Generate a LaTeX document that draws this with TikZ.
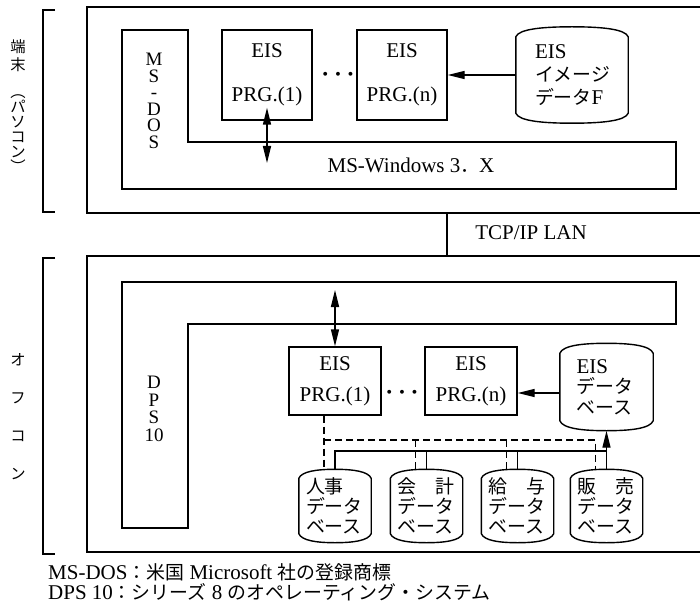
\documentclass[tikz,border=0pt]{standalone}
\usepackage{fontspec}
\setmainfont{Liberation Serif}
\newfontfamily\jfont[Scale=0.9]{Noto Sans CJK JP}
\newcommand{\ja}[1]{{\jfont #1}}
\usetikzlibrary{calc,arrows.meta,positioning}

\newcommand{\dbshape}[2][10]{%
  \draw[frame] ($(#2.north west)+(0,#1)$)
    .. controls ($(#2.north west)+(3,2)$) and ($(#2.north west)!0.5!(#2.north)$) .. (#2.north)
    .. controls ($(#2.north)!0.5!(#2.north east)$) and ($(#2.north east)+(-3,2)$) .. ($(#2.north east)+(0,#1)$)
    -- ($(#2.south east)+(0,-#1)$)
    .. controls ($(#2.south east)+(-3,-2)$) and ($(#2.south)!0.5!(#2.south east)$) .. (#2.south)
    .. controls ($(#2.south west)!0.5!(#2.south)$) and ($(#2.south west)+(3,-2)$) .. ($(#2.south west)+(0,-#1)$)
    -- cycle;}

\begin{document}
\begin{tikzpicture}[x=1pt,y=-1pt,
  every node/.style={font=\fontsize{21}{24}\selectfont},
  frame/.style={line width=1.4pt},
  prg/.style={draw,line width=1.4pt,align=center,inner sep=0pt,minimum width=90pt,minimum height=90pt},
  dbnode/.style={align=left,inner xsep=7pt,inner ysep=0pt,text width=58pt,minimum height=73pt,font=\fontsize{21}{20}\selectfont},
  vtext/.style={align=center,inner sep=0pt},
  dots/.style={font=\fontsize{24}{24}\selectfont\boldmath},
  arr/.style={line width=1.4pt,-{Triangle[length=17pt,width=8pt]}},
  darr/.style={line width=1.4pt,{Triangle[length=17pt,width=8pt]}-{Triangle[length=17pt,width=8pt]}},
  bus/.style={line width=1.4pt},
  dbus/.style={line width=1.4pt,dash pattern=on 7pt off 4pt}]
  \fill[white] (0,0) rectangle (700,609);
  \useasboundingbox (0,0) rectangle (700,609);

  % terminal side
  \draw[frame] (55,10) -- (43,10) -- (43,212) -- (55,212);
  \node[vtext,font=\fontsize{17}{15}\selectfont\jfont] (pc) at (18,106) {端\\[3pt]末\\[12pt]︵\\パ\\ソ\\コ\\ン\\︶};
  \draw[frame] (700,7) -- (87,7) -- (87,213) -- (700,213);
  \draw[frame] (122,30) -- (188,30) -- (188,142) -- (676,142) -- (676,189) -- (122,189) -- cycle;
  \node[vtext,font=\fontsize{19}{16.5}\selectfont] (msdos) at (154,101) {M\\S\\-\\D\\O\\S};
  \node (win) at (411,165) {MS-Windows 3\ja{．}X};
  \node[prg] (p1) at (267,75) {EIS\\[20pt]PRG.(1)};
  \node[prg] (pn) at (402,75) {EIS\\[20pt]PRG.(n)};
  \node[dots] (dot1) at (338,75) {$\cdots$};
  \node[dbnode,text width=74pt,inner xsep=19pt,minimum height=96pt,font=\fontsize{21}{23}\selectfont] (imgf) at (572,75) {EIS\\\ja{イメージ}\\\ja{データ}F};
  \dbshape{imgf}
  \draw[arr] (imgf.west) -- (pn.east);
  \coordinate (w1) at (267,163);
  \draw[darr] ($(p1.south)+(0,-13)$) -- (w1);

  % network
  \draw[frame] (447,213) -- (447,256);
  \node (lan) at (531,233) {TCP/IP LAN};

  % office computer side
  \draw[frame] (55,258) -- (43,258) -- (43,554) -- (55,554);
  \node[vtext,font=\fontsize{17}{38}\selectfont\jfont] (offcon) at (18,417) {オ\\フ\\コ\\ン};
  \draw[frame] (700,256) -- (87,256) -- (87,552) -- (700,552);
  \draw[frame] (122,282) -- (676,282) -- (676,324) -- (188,324) -- (188,528) -- (122,528) -- cycle;
  \node[vtext,font=\fontsize{19}{17.7}\selectfont] (dps) at (154,409) {D\\P\\S\\10};
  \node[prg,minimum width=92pt,minimum height=68pt] (q1) at (335,381) {EIS\\[7pt]PRG.(1)};
  \node[prg,minimum width=92pt,minimum height=68pt] (qn) at (471,381) {EIS\\[7pt]PRG.(n)};
  \node[dots] (dot2) at (402,393) {$\cdots$};
  \node[dbnode,text width=60pt,inner xsep=16.5pt,minimum height=87pt,font=\fontsize{21}{20.5}\selectfont] (eisdb) at (606.5,387) {EIS\\\ja{データ}\\\ja{ベース}};
  \dbshape{eisdb}
  \coordinate (ea) at ($(eisdb.west)+(0,6)$);
  \draw[arr] (ea) -- (ea -| qn.east);
  \coordinate (d1) at (335,290);
  \draw[darr] (d1) -- (q1.north);

  \node[dbnode] (jinji) at (335,506) {\ja{人事}\\\ja{データ}\\\ja{ベース}};
  \node[dbnode] (kaikei) at (426.5,506) {\ja{会　計}\\\ja{データ}\\\ja{ベース}};
  \node[dbnode] (kyuyo) at (517.5,506) {\ja{給　与}\\\ja{データ}\\\ja{ベース}};
  \node[dbnode] (hanbai) at (606.5,506) {\ja{販　売}\\\ja{データ}\\\ja{ベース}};
  \foreach \n in {jinji,kaikei,kyuyo,hanbai} {\dbshape[9]{\n}}

  \coordinate (sb) at (0,451);
  \coordinate (db) at (0,440);
  \draw[bus] (jinji.north) |- (sb -| hanbai.north);
  \draw[bus] (kaikei.north) -- (kaikei.north |- sb);
  \draw[bus] (kyuyo.north) -- (kyuyo.north |- sb);
  \draw[arr] (hanbai.north) -- (eisdb.south);
  \foreach \n in {jinji,kaikei,kyuyo,hanbai} {\coordinate (\n-d) at ($(\n.north)+(-11,0)$);}
  \draw[dbus] ($(q1.south)+(-11,0)$) -- (jinji-d);
  \draw[dbus] (jinji-d |- db) -| (hanbai-d);
  \draw[dbus] (kaikei-d |- db) -- (kaikei-d);
  \draw[dbus] (kyuyo-d |- db) -- (kyuyo-d);

  % notes
  \node[anchor=west,inner sep=0pt] (note1) at (48,572) {MS-DOS\ja{：米国} Microsoft \ja{社の登録商標}};
  \node[anchor=west,inner sep=0pt] (note2) at (48,592) {DPS 10\ja{：シリーズ} 8 \ja{のオペレーティング・システム}};
\end{tikzpicture}
\end{document}
